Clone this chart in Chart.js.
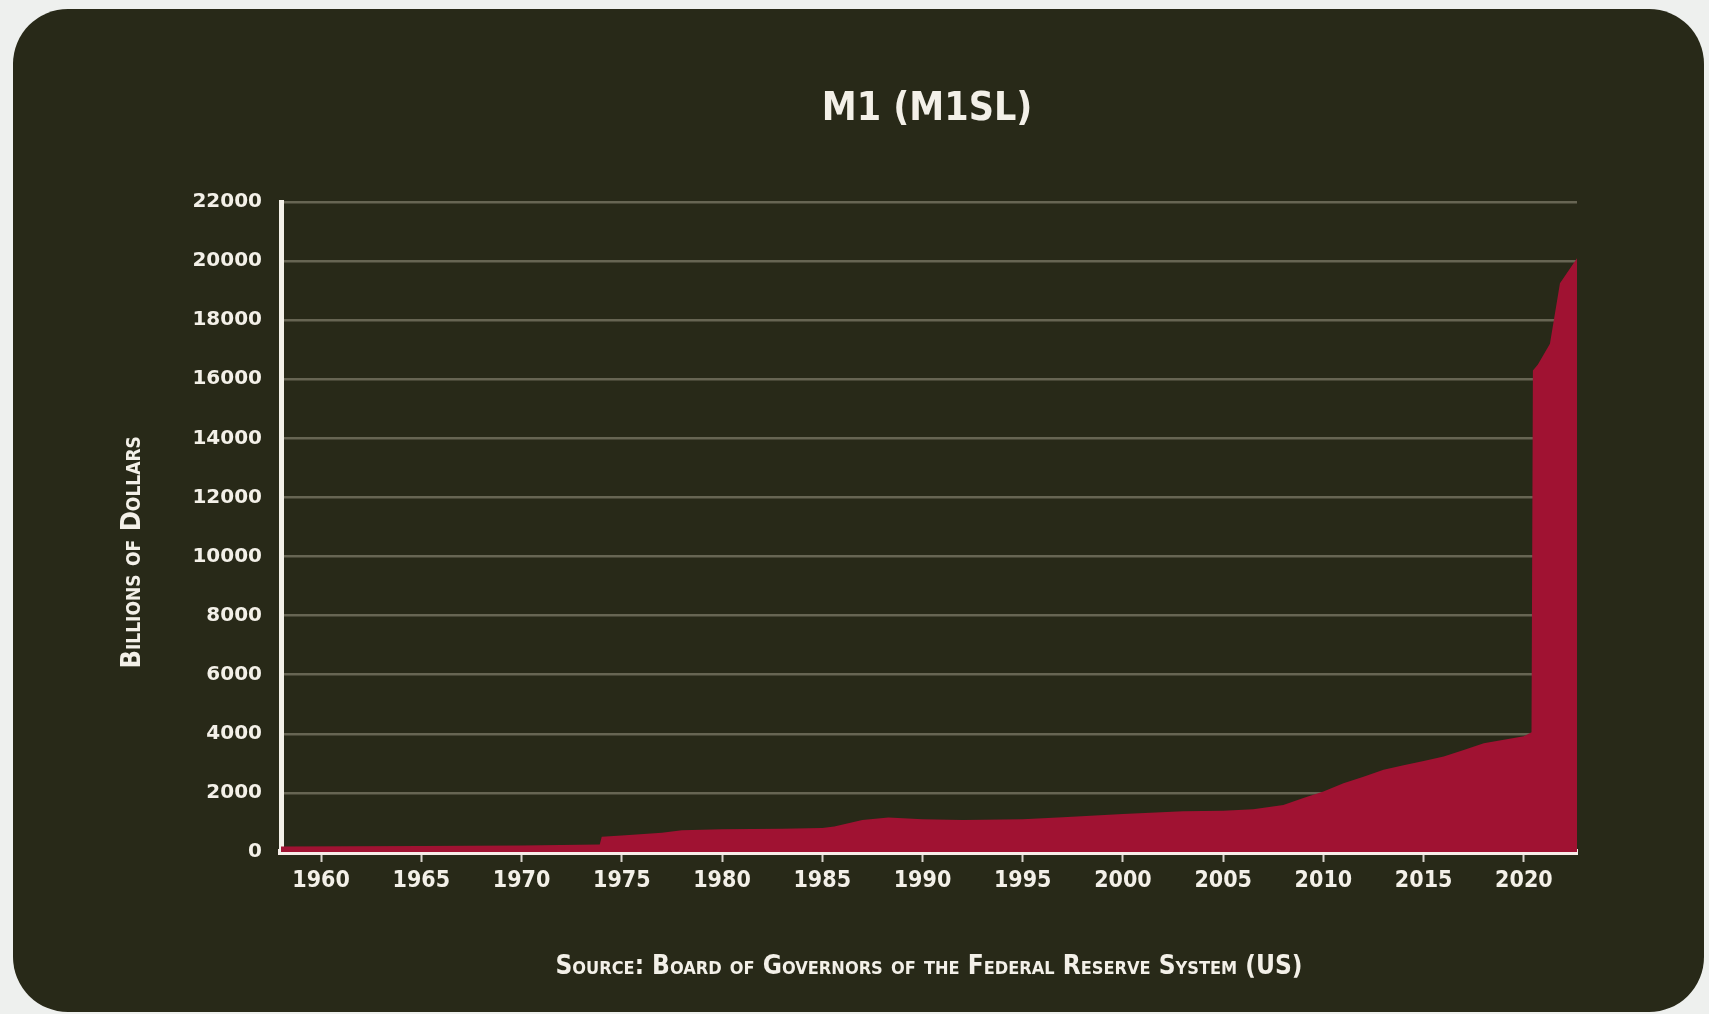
<!DOCTYPE html>
<html>
<head>
<meta charset="utf-8">
<title>M1 (M1SL)</title>
<script src="https://cdn.jsdelivr.net/npm/chart.js@4.4.1/dist/chart.umd.min.js"></script>
<style>
  html, body { margin: 0; padding: 0; width: 1709px; height: 1014px; overflow: hidden; background: #eef0ee; }
  .card { position: absolute; left: 13px; top: 9px; width: 1691px; height: 1003px; border-radius: 55px; background: #282918; }
  .wrap { position: absolute; left: 0; top: 0; width: 1854px; height: 1014px; }
</style>
</head>
<body>
<div class="card"></div>
<div class="wrap"><canvas id="m1Chart"></canvas></div>
<script>
// M1 money stock, billions of dollars
const years = [1958, 1965, 1970, 1973.9, 1974.0, 1975, 1977, 1978, 1980, 1983, 1985, 1985.6, 1987, 1988.3,
  1990, 1992, 1995, 1997, 2000, 2003, 2005, 2006.5, 2008, 2009, 2010, 2011, 2012, 2013, 2014, 2015,
  2016, 2017, 2018, 2019, 2020, 2020.38, 2020.45, 2020.7, 2021.3, 2021.8, 2022.65];
const m1Values = [190, 200, 220, 250, 520, 560, 650, 740, 770, 790, 810, 860, 1080, 1170,
  1110, 1080, 1110, 1180, 1290, 1380, 1400, 1450, 1590, 1830, 2050, 2330, 2550, 2780, 2940, 3080,
  3230, 3450, 3680, 3800, 3920, 4050, 16300, 16500, 17200, 19250, 20100];

const xTickYears = [1960, 1965, 1970, 1975, 1980, 1985, 1990, 1995, 2000, 2005, 2010, 2015, 2020];
const yTickValues = [0, 2000, 4000, 6000, 8000, 10000, 12000, 14000, 16000, 18000, 20000, 22000];

const narrow = "'Liberation Sans Narrow', 'DejaVu Sans Condensed', 'Roboto', sans-serif";
const cream = '#f3f0e8';

const points = years.map((y, i) => ({ x: y, y: m1Values[i] }));

new Chart(document.getElementById('m1Chart'), {
  type: 'line',
  data: {
    datasets: [{
      label: 'M1',
      data: points,
      fill: 'origin',
      backgroundColor: '#a01232',
      borderWidth: 0,
      pointRadius: 0,
      tension: 0
    }]
  },
  options: {
    responsive: true,
    maintainAspectRatio: false,
    animation: false,
    layout: { padding: 0 },
    plugins: {
      legend: { display: false },
      tooltip: { enabled: false },
      title: {
        display: true,
        text: 'M1 (M1SL)',
        color: cream,
        font: { family: narrow, size: 39, weight: 'bold', lineHeight: 1.2 },
        padding: { top: 86, bottom: 69.2 }
      }
    },
    scales: {
      x: {
        type: 'linear',
        min: 1958,
        max: 2022.65,
        z: 1,
        afterBuildTicks: s => { s.ticks = xTickYears.map(v => ({ value: v })); },
        afterFit: s => { s.height = 162; },
        grid: { drawOnChartArea: false, drawTicks: true, tickLength: 10, tickWidth: 2, tickColor: '#d9d4cc' },
        border: { display: true, color: '#f8ede9', width: 6 },
        ticks: {
          color: cream,
          padding: 5,
          maxRotation: 0,
          font: { family: narrow, size: 23, weight: 'bold' },
          callback: v => String(v)
        },
        title: {
          display: true,
          text: 'Source: Board of Governors of the Federal Reserve System (US)',
          color: cream,
          font: { family: narrow, size: 26, weight: 'small-caps bold', lineHeight: 1.2 },
          padding: { top: 0, bottom: 31 }
        }
      },
      y: {
        min: 0,
        max: 22000,
        afterBuildTicks: s => { s.ticks = yTickValues.map(v => ({ value: v })); },
        afterFit: s => { s.width = 281; },
        grid: { color: '#676553', lineWidth: 2.5, drawTicks: false },
        border: { display: true, color: cream, width: 5 },
        ticks: {
          color: cream,
          padding: 19,
          font: { family: "'DejaVu Sans', sans-serif", size: 20, weight: 'bold' },
          callback: v => String(v)
        },
        title: {
          display: true,
          // trailing spaces nudge the label down to where the original sits
          text: 'Billions of Dollars\u00a0\u00a0\u00a0\u00a0\u00a0\u00a0',
          color: cream,
          font: { family: narrow, size: 27, weight: 'small-caps bold', lineHeight: 1.2 },
          padding: { top: 117, bottom: 0 }
        }
      },
      // empty axis on the right keeps the title centred over the plot
      pad: {
        type: 'linear',
        position: 'right',
        display: true,
        grid: { display: false },
        border: { display: false },
        ticks: { display: false },
        afterFit: s => { s.width = 277; }
      }
    }
  }
});
</script>
</body>
</html>
